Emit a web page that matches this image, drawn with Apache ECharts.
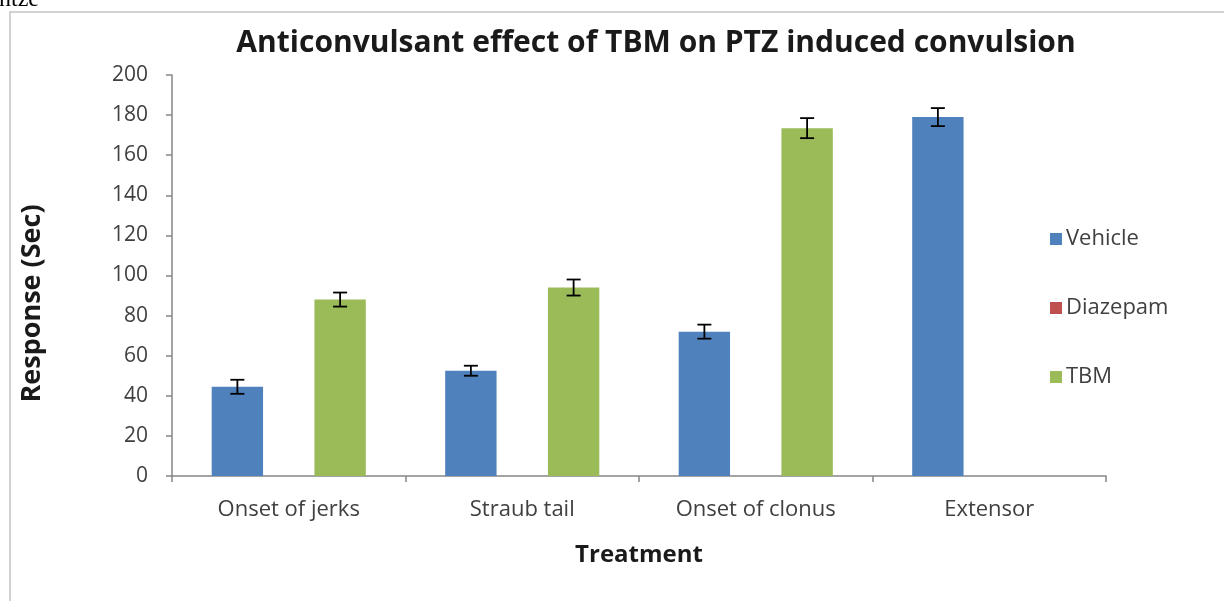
<!DOCTYPE html>
<html>
<head>
<meta charset="utf-8">
<script src="https://cdn.jsdelivr.net/npm/echarts@6/dist/echarts.min.js"></script>
<style>
  html, body { margin: 0; padding: 0; background: #fff; }
  #main { width: 1224px; height: 601px; }
</style>
</head>
<body>
<div id="main"></div>
<script>
// data
var categories = ["Onset of jerks", "Straub tail", "Onset of clonus", "Extensor"];
var seriesNames = ["Vehicle", "Diazepam", "TBM"];
var vehicle = [44.5, 52.5, 72, 179];
var vehicleErr = [3.5, 2.5, 3.5, 4.5];
var diazepam = [null, null, null, null];
var tbm = [88, 94, 173.5, null];
var tbmErr = [3.5, 4, 5, null];
var yTicks = [0, 20, 40, 60, 80, 100, 120, 140, 160, 180, 200];

var catGap = 0.34;
var fontFamily = "Open Sans";

// error bars drawn on top of the bars, offset = slot of the series inside the category
function errorSeries(values, errs, slot) {
  var items = [];
  for (var i = 0; i < values.length; i++) {
    if (values[i] != null && errs[i] != null) {
      items.push([i, values[i], errs[i]]);
    }
  }
  return {
    type: "custom",
    silent: true,
    z: 10,
    data: items,
    renderItem: function (params, api) {
      var idx = api.value(0);
      var val = api.value(1);
      var err = api.value(2);
      var band = api.size([1, 0])[0];
      var barW = band * (1 - catGap) / 3;
      var center = api.coord([idx, val]);
      var x = center[0] + (slot - 1) * barW;
      var hi = api.coord([idx, val + err])[1];
      var lo = api.coord([idx, val - err])[1];
      var cap = 7;
      var st = { stroke: "#000", lineWidth: 1.8 };
      return {
        type: "group",
        children: [
          { type: "line", shape: { x1: x, y1: hi, x2: x, y2: lo }, style: st },
          { type: "line", shape: { x1: x - cap, y1: hi, x2: x + cap, y2: hi }, style: st },
          { type: "line", shape: { x1: x - cap, y1: lo, x2: x + cap, y2: lo }, style: st }
        ]
      };
    }
  };
}

var myChart = echarts.init(document.getElementById("main"));

var option = {
  animation: false,
  color: ["#4F81BD", "#C0504D", "#9BBB59"],
  title: {
    text: "Anticonvulsant effect of TBM on PTZ induced convulsion",
    left: 651,
    textAlign: "center",
    top: 23,
    textStyle: {
      fontFamily: fontFamily,
      fontWeight: "bold",
      fontSize: 30,
      color: "#1a1a1a"
    }
  },
  graphic: [
    {
      type: "rect",
      shape: { x: 10, y: 12, width: 1300, height: 700 },
      style: { fill: "none", stroke: "#c4c4c4", lineWidth: 1.5 },
      silent: true
    },
    {
      type: "text",
      x: -1,
      y: 12,
      style: {
        text: "ntze",
        font: "24px 'Liberation Serif'",
        fill: "#000",
        verticalAlign: "bottom"
      },
      silent: true
    }
  ],
  legend: {
    data: seriesNames,
    orient: "vertical",
    left: 1045,
    top: 223,
    itemWidth: 12,
    itemHeight: 12,
    itemGap: 47,
    icon: "rect",
    textStyle: {
      fontFamily: fontFamily,
      fontSize: 22,
      color: "#404040",
      padding: [0, 0, 0, -1]
    }
  },
  grid: {
    left: 172,
    right: 118,
    top: 75,
    bottom: 125
  },
  xAxis: {
    type: "category",
    data: categories,
    name: "Treatment",
    nameLocation: "middle",
    nameGap: 67,
    nameTextStyle: {
      fontFamily: fontFamily,
      fontWeight: "bold",
      fontSize: 24,
      color: "#1a1a1a"
    },
    axisLine: { lineStyle: { color: "#868686", width: 1.5 } },
    axisTick: { show: true, length: 6, lineStyle: { color: "#868686", width: 1.5 } },
    axisLabel: {
      margin: 23,
      fontFamily: fontFamily,
      fontSize: 22,
      color: "#404040"
    }
  },
  yAxis: {
    type: "value",
    min: yTicks[0],
    max: yTicks[yTicks.length - 1],
    interval: 20,
    name: "Response (Sec)",
    nameLocation: "middle",
    nameRotate: 90,
    nameGap: 126,
    nameTextStyle: {
      fontFamily: fontFamily,
      fontWeight: "bold",
      fontSize: 27,
      color: "#1a1a1a",
      padding: [0, 56, 0, 0]
    },
    splitLine: { show: false },
    axisLine: { show: true, lineStyle: { color: "#868686", width: 1.5 } },
    axisTick: { show: true, length: 6, lineStyle: { color: "#868686", width: 1.5 } },
    axisLabel: {
      margin: 24,
      fontFamily: fontFamily,
      fontSize: 21,
      color: "#404040"
    }
  },
  series: [
    {
      name: "Vehicle",
      type: "bar",
      barGap: "0%",
      barCategoryGap: catGap * 100 + "%",
      data: vehicle
    },
    {
      name: "Diazepam",
      type: "bar",
      data: diazepam
    },
    {
      name: "TBM",
      type: "bar",
      data: tbm
    },
    errorSeries(vehicle, vehicleErr, 0),
    errorSeries(tbm, tbmErr, 2)
  ]
};

myChart.setOption(option);
</script>
</body>
</html>
